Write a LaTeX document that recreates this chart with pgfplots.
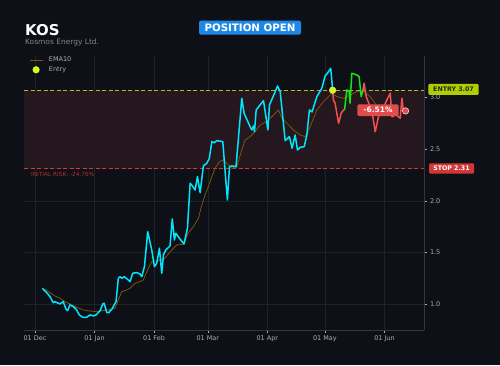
\documentclass[border=0pt]{standalone}
\usepackage{fontspec}
\setmainfont{DejaVu Sans}
\usepackage{pgfplots}
\pgfplotsset{compat=1.18}
\pgfplotsset{
  emaleg/.style={legend image code/.code={\draw[##1] (0bp,0bp) -- (13bp,0bp);}},
  entryleg/.style={legend image code/.code={\draw[##1] plot coordinates {(6.5bp,0bp)};}},
}
\definecolor{bg}{RGB}{13,17,23}
\definecolor{gridc}{RGB}{30,35,42}
\definecolor{spine}{RGB}{50,55,62}
\definecolor{tickc}{RGB}{170,175,180}
\definecolor{cyanline}{RGB}{0,230,255}
\definecolor{greenline}{RGB}{20,230,20}
\definecolor{redline}{RGB}{240,80,80}
\definecolor{emac}{RGB}{125,82,12}
\definecolor{band}{RGB}{36,24,30}
\definecolor{entrydash}{RGB}{180,185,40}
\definecolor{stopdash}{RGB}{220,55,55}
\definecolor{entrybadge}{RGB}{175,205,0}
\definecolor{entrydot}{RGB}{215,250,20}
\definecolor{stopbadge}{RGB}{210,55,55}
\definecolor{pctbadge}{RGB}{225,75,75}
\definecolor{bluebadge}{RGB}{30,136,229}
\definecolor{riskc}{RGB}{170,50,50}
\definecolor{subc}{RGB}{130,135,140}
\begin{document}
\begin{tikzpicture}[x=1bp,y=1bp]
\fill[bg] (0,0) rectangle (500,365);
\useasboundingbox (0,0) rectangle (500,365);
% right-side badges (behind tick labels)
\node[fill=entrybadge, rounded corners=1.2bp, text=black!85, font=\fontsize{6.3}{7}\selectfont\bfseries, minimum width=50.4bp, minimum height=11bp, inner sep=0] at (453.5,275.6) {ENTRY 3.07};
\node[fill=stopbadge, rounded corners=1.2bp, text=white, font=\fontsize{6.3}{7}\selectfont\bfseries, minimum width=45bp, minimum height=10.4bp, inner sep=0] at (451.5,196.5) {STOP 2.31};
\begin{axis}[
  at={(24bp,35bp)}, anchor=south west,
  scale only axis, width=400bp, height=274bp,
  xmin=-5.73, xmax=202.6, ymin=0.751, ymax=3.401,
  axis x line*=bottom, axis y line*=right,
  axis line style={color=spine, line width=0.6bp},
  xtick={0,31,62,90,121,151,182},
  xticklabels={01 Dec,01 Jan,01 Feb,01 Mar,01 Apr,01 May,01 Jun},
  ytick={1,1.5,2,2.5,3},
  yticklabel style={/pgf/number format/fixed,/pgf/number format/fixed zerofill,/pgf/number format/precision=1},
  /pgf/number format/assume math mode=true,
  tick align=outside, major tick length=2.5bp,
  tick style={color=tickc, line width=0.5bp},
  ticklabel style={font=\fontsize{6.5}{7}\selectfont, color=tickc},
  grid=major, grid style={color=gridc, line width=0.4bp},
  legend style={at={(0.005,1.012)}, anchor=north west, draw=none, fill=none,
    font=\fontsize{6.5}{8}\selectfont, text=tickc, row sep=-0.5bp,
    /tikz/every odd column/.append style={column sep=4bp}},
  legend cell align=left,
  clip=true,
]
\addplot[forget plot, draw=none, fill=band] coordinates {(-5.73,2.31) (202.6,2.31) (202.6,3.07) (-5.73,3.07)} -- cycle;
\addplot[forget plot, entrydash, line width=1bp, dash pattern=on 4bp off 2.5bp] coordinates {(-5.73,3.07) (202.6,3.07)};
\addplot[forget plot, stopdash, line width=0.9bp, dash pattern=on 4bp off 2.5bp] coordinates {(-5.73,2.31) (202.6,2.31)};
% EMA10
\addplot[emac, line width=0.8bp, emaleg] coordinates {
(5.2,1.145) (7.8,1.112) (10.4,1.080) (13.0,1.058) (15.6,1.025) (18.2,1.003) (21.7,0.971)
(25.2,0.945) (28.7,0.935) (32.2,0.928) (34.8,0.938) (38.2,0.945) (41.7,0.961) (43.4,1.042)
(45.2,1.122) (47.8,1.138) (49.5,1.155) (52.1,1.203) (54.7,1.219) (56.4,1.235) (59.0,1.348)
(60.8,1.412) (64.3,1.422) (67.7,1.445) (71.2,1.525) (73.8,1.573) (77.3,1.580) (79.9,1.692)
(82.5,1.750) (85.1,1.832) (86.9,1.960) (88.6,2.057) (90.3,2.137) (92.1,2.234) (93.8,2.315)
(96.0,2.379) (98.1,2.396) (99.9,2.364) (102.5,2.315) (105.1,2.331) (107.7,2.492) (109.4,2.589)
(112.0,2.621) (114.6,2.669) (117.2,2.734) (120.7,2.766) (123.3,2.814) (126.8,2.879) (128.6,2.799)
(131.2,2.750) (134.6,2.686) (138.1,2.637) (140.7,2.621) (143.3,2.718) (146.8,2.879) (150.2,2.959)
(154.6,3.041) (157.2,3.008) (160.7,2.992) (164.1,3.024) (167.6,3.056) (171.1,3.056) (174.6,3.008)
(177.2,2.944) (178.9,2.879) (182.0,2.880)
};
\addlegendentry{EMA10}
% price before entry
\addplot[forget plot, cyanline, line width=1.5bp, line join=round] coordinates {
(3.8,1.155) (6.1,1.112) (7.8,1.074) (9.5,1.015) (10.4,1.025) (13.0,1.003) (14.7,1.025)
(16.2,0.952) (17.0,0.938) (18.2,0.993) (20.0,0.977) (21.7,0.945) (23.1,0.897) (24.9,0.874)
(26.9,0.874) (28.7,0.897) (30.4,0.887) (31.8,0.897) (33.9,0.938) (35.3,1.003) (36.0,1.010)
(37.4,0.919) (38.4,0.919) (40.1,0.955) (42.2,1.025) (43.4,1.251) (44.3,1.267) (45.3,1.251)
(46.4,1.267) (48.6,1.235) (49.5,1.219) (50.9,1.300) (53.0,1.306) (54.7,1.293) (55.6,1.267)
(57.0,1.364) (58.7,1.702) (60.8,1.525) (62.2,1.364) (63.4,1.397) (64.8,1.542) (66.0,1.300)
(66.9,1.477) (68.1,1.525) (70.3,1.564) (71.5,1.825) (72.6,1.622) (73.3,1.687) (75.6,1.629)
(77.6,1.583) (79.4,1.735) (80.8,2.170) (82.0,2.144) (83.4,2.105) (84.6,2.234) (86.0,2.079)
(87.7,2.338) (89.5,2.364) (90.8,2.412) (92.1,2.573) (93.3,2.563) (94.7,2.582) (97.8,2.573)
(100.2,2.009) (101.3,2.331) (102.5,2.338) (104.7,2.331) (107.7,2.992) (108.9,2.847) (112.0,2.718)
(112.9,2.686) (113.8,2.724) (114.3,2.669) (115.2,2.879) (117.2,2.927) (119.0,2.969) (121.3,2.686)
(122.1,2.927) (125.1,3.056) (126.3,3.111) (127.7,3.056) (129.1,2.799) (130.3,2.582) (132.5,2.621)
(133.9,2.509) (135.5,2.637) (136.7,2.492) (138.1,2.518) (140.2,2.524) (141.6,2.637) (142.9,2.879)
(144.3,2.860) (146.8,3.008) (149.4,3.089) (151.1,3.208) (152.3,3.234) (154.0,3.282) (155.0,3.077)
};
% after entry: red / green / red
\addplot[forget plot, redline, line width=1.5bp, line join=round] coordinates {
(155.0,3.077) (155.4,2.976) (156.3,2.944) (158.1,2.750) (159.5,2.850) (160.7,2.879) (161.2,2.879)
};
\addplot[forget plot, greenline, line width=1.5bp, line join=round] coordinates {
(161.2,2.879) (162.4,3.073) (163.6,3.056) (164.1,2.944) (165.0,3.234) (167.6,3.218) (168.8,3.201)
(169.9,3.008) (170.8,3.073)
};
\addplot[forget plot, redline, line width=1.5bp, line join=round] coordinates {
(170.8,3.073) (171.4,3.137) (172.5,3.008) (174.2,2.927) (175.5,2.863) (177.2,2.669) (178.9,2.814)
(180.8,2.879) (183.3,2.976) (185.0,3.041) (185.9,2.814) (188.1,2.831) (190.2,2.799) (191.1,2.992)
(191.9,2.863)
};
% entry marker
\addplot[only marks, mark=*, mark size=3.3bp, mark options={fill=entrydot, draw=entrydot!60!white, line width=0.4bp}, entryleg] coordinates {(155.0,3.07)};
\addlegendentry{Entry}
% current marker
\addplot[forget plot, only marks, mark=*, mark size=3.2bp, mark options={fill=pctbadge, draw=white!80!pctbadge, line width=0.6bp}] coordinates {(193.0,2.870)};
\end{axis}
% title block
\node[anchor=base west, inner sep=0, text=white, font=\fontsize{15}{16}\selectfont\bfseries] at (25,330) {KOS};
\node[anchor=base west, inner sep=0, text=subc, font=\fontsize{7.5}{8}\selectfont] at (25,321) {Kosmos Energy Ltd.};
\node[fill=bluebadge, rounded corners=1.5bp, text=white, font=\fontsize{10.3}{11}\selectfont\bfseries, minimum width=102bp, minimum height=14bp, inner sep=0] at (250,337.3) {POSITION OPEN};
\node[fill=pctbadge, rounded corners=1.5bp, text=white, font=\fontsize{7.5}{8}\selectfont\bfseries, minimum width=41.4bp, minimum height=11.7bp, inner sep=0] at (378,254.8) {-6.51\%};
\node[anchor=west, inner sep=0, text=riskc, font=\fontsize{5.8}{6}\selectfont] at (31,191) {INITIAL RISK: -24.76\%};
\end{tikzpicture}
\end{document}
